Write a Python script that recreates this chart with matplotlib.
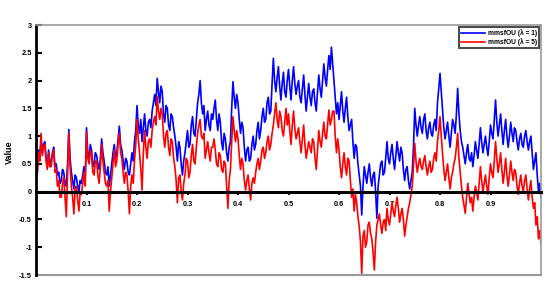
import numpy as np
import matplotlib
matplotlib.use("Agg")
import matplotlib.pyplot as plt

plt.rcParams["font.family"] = ["Liberation Sans", "DejaVu Sans"]

x_step = 0.0025
blue_vals = [
    0.5, 0.35, 0.75, 0.6, 0.95, 0.7, 0.85, 0.9, 0.6, 0.45, 0.75, 0.5, 0.55, 0.7, 0.8, 0.45, 0.5, 0.3, 0.35, 0.15,
    0.2, 0.4, 0.35, 0.15, 0.1, 0.5, 1.12, 0.6, 0.35, 0.2, 0.05, 0.3, 0.25, 0.1, 0.0, 0.2, 0.15, 0.3, 0.45, 0.25,
    1.15, 0.7, 0.6, 0.85, 0.75, 0.45, 0.5, 0.7, 0.65, 0.5, 0.4, 0.6, 0.95, 0.7, 0.55, 0.35, 0.3, 0.45, 0.1, 0.3,
    0.5, 0.7, 0.85, 0.6, 0.7, 0.95, 1.18, 0.85, 0.75, 0.55, 0.4, 0.6, 0.55, 0.35, 0.3, 0.5, 0.7, 0.55, 0.9, 1.1,
    1.55, 1.2, 1.05, 1.3, 0.9, 1.15, 1.4, 1.1, 1.0, 1.25, 1.3, 1.15, 1.45, 1.6, 1.75, 1.55, 2.04, 1.8, 1.6, 1.9,
    1.8, 1.4, 1.25, 1.55, 1.5, 1.2, 1.1, 1.4, 1.35, 1.15, 1.0, 0.8, 0.55, 0.9, 0.8, 0.5, 0.3, 0.55, 0.7, 0.9,
    1.1, 0.8, 0.85, 1.2, 1.35, 1.05, 1.0, 1.3, 1.6, 1.75, 2.0, 1.6, 1.4, 1.55, 1.1, 1.3, 1.45, 1.2, 1.1, 1.4,
    1.3, 1.5, 1.65, 1.3, 1.1, 1.4, 1.25, 0.9, 0.75, 1.05, 0.95, 0.7, 0.55, 0.8, 0.9, 1.5, 1.98, 1.7, 1.5, 1.75,
    1.6, 1.3, 1.05, 1.25, 1.15, 0.8, 0.55, 0.75, 0.8, 0.55, 0.6, 0.85, 1.0, 0.75, 0.85, 1.1, 1.25, 0.95, 1.1, 1.35,
    1.5, 1.25, 1.3, 1.6, 1.7, 1.4, 1.45, 1.95, 2.4, 2.0, 1.8, 2.05, 2.25, 1.9, 1.65, 1.95, 2.15, 1.8, 1.7, 2.0,
    2.2, 1.9, 1.65, 2.0, 2.25, 1.95, 1.75, 1.9, 2.0, 1.7, 1.6, 1.85, 2.1, 1.75, 1.45, 1.7, 1.95, 1.7, 1.55, 1.8,
    1.85, 1.6, 1.45, 1.8, 2.1, 1.85, 1.7, 2.0, 2.3, 2.05, 1.9, 2.2, 2.45, 2.2, 2.6, 2.3, 2.0, 1.7, 1.4, 1.6,
    1.3, 1.55, 1.8, 1.45, 1.25, 1.5, 1.7, 1.35, 1.1, 1.2, 1.3, 0.9, 0.6, 0.85, 0.8, 0.5, 0.3, 0.1, -0.42, 0.1,
    0.45, 0.3, 0.15, 0.35, 0.5, 0.25, 0.1, 0.3, 0.35, 0.0, -0.48, 0.1, 0.3, 0.5, 0.55, 0.3, 0.35, 0.6, 0.9, 0.6,
    0.5, 0.7, 0.85, 0.6, 0.4, 0.65, 0.9, 0.7, 0.55, 0.8, 0.7, 0.4, 0.2, 0.4, 0.45, 0.2, 0.05, 0.2, 0.35, 0.8,
    1.5, 1.2, 1.0, 1.2, 1.35, 1.15, 1.05, 1.3, 1.4, 1.1, 0.95, 1.15, 1.25, 1.05, 1.0, 1.2, 1.3, 1.1, 1.6, 1.85,
    2.13, 1.8, 1.45, 1.15, 0.95, 1.1, 1.25, 1.0, 0.8, 1.05, 1.3, 1.2, 1.05, 1.4, 1.86, 1.4, 1.1, 0.9, 0.8, 0.65,
    0.5, 0.7, 0.85, 0.6, 0.55, 0.7, 0.45, 0.65, 0.9, 0.75, 0.6, 0.85, 1.15, 0.9, 0.7, 0.85, 1.0, 0.8, 0.65, 0.9,
    1.2, 1.05, 0.95, 1.3, 1.65, 1.25, 1.0, 1.2, 1.4, 1.1, 0.85, 1.1, 1.3, 1.0, 0.8, 1.0, 1.25, 1.05, 0.9, 1.15,
    1.1, 0.9, 0.75, 0.95, 1.05, 0.85, 0.8, 1.0, 1.1, 0.9, 0.75, 0.9, 1.0, 0.7, 0.4, 0.55, 0.7, 0.3, 0.0, 0.15, -0.1,
]
red_vals = [
    0.45, 0.3, 0.7, 0.55, 1.05, 0.65, 0.8, 0.85, 0.55, 0.4, 0.7, 0.45, 0.45, 0.65, 0.75, 0.35, 0.4, 0.1, 0.2, -0.1,
    -0.1, 0.15, 0.25, -0.1, -0.45, 0.3, 1.05, 0.45, 0.1, -0.1, -0.4, 0.05, 0.1, -0.15, -0.35, 0.0, -0.05, 0.15, 0.35, 0.1,
    1.08, 0.6, 0.5, 0.75, 0.65, 0.35, 0.3, 0.55, 0.55, 0.3, 0.15, 0.45, 0.85, 0.55, 0.35, 0.15, 0.1, 0.2, -0.35, 0.0,
    0.25, 0.5, 0.75, 0.45, 0.55, 0.85, 1.05, 0.7, 0.6, 0.35, 0.15, 0.35, 0.3, 0.0, -0.4, 0.1, 0.3, 0.15, 0.55, 0.85,
    1.3, 0.95, 0.7, 0.4, 0.03, 0.7, 1.1, 0.8, 0.6, 0.9, 0.95, 0.8, 1.1, 1.25, 1.35, 1.2, 1.71, 1.45, 1.3, 1.5,
    1.4, 1.0, 0.8, 1.05, 1.1, 0.8, 0.65, 0.95, 0.9, 0.6, 0.45, 0.2, -0.2, 0.25, 0.3, 0.0, -0.15, 0.15, 0.3, 0.6,
    0.55, 0.25, 0.35, 0.65, 0.85, 0.55, 0.5, 0.8, 1.05, 1.2, 1.3, 1.0, 0.95, 1.05, 0.6, 0.75, 0.9, 0.7, 0.55, 0.8,
    0.8, 0.95, 0.75, 0.5, 0.45, 0.7, 0.65, 0.4, 0.35, 0.55, 0.5, 0.1, -0.3, 0.2, 0.4, 0.9, 1.35, 1.1, 0.9, 1.1,
    0.95, 0.65, 0.4, 0.6, 0.5, 0.2, 0.03, 0.2, 0.3, 0.05, -0.15, 0.15, 0.25, 0.15, 0.35, 0.5, 0.6, 0.4, 0.55, 0.75,
    0.8, 0.6, 0.7, 0.9, 1.0, 0.75, 0.85, 1.05, 1.2, 1.4, 1.6, 1.3, 1.15, 1.45, 1.35, 1.1, 1.0, 1.25, 1.5, 1.2,
    1.4, 1.1, 0.85, 1.2, 1.45, 1.15, 0.95, 1.05, 1.15, 0.9, 0.7, 0.95, 1.2, 0.85, 0.6, 0.75, 0.9, 0.8, 0.7, 0.95,
    0.9, 0.6, 0.4, 0.75, 1.1, 0.9, 0.8, 1.05, 1.25, 1.0, 0.95, 1.2, 1.47, 1.2, 1.3, 1.45, 1.45, 1.0, 0.7, 0.95,
    0.75, 0.45, 0.25, 0.5, 0.7, 0.45, 0.3, 0.6, 0.55, 0.2, -0.1, 0.05, -0.35, -0.05, -0.2, -0.45, -0.63, -0.9, -1.47, -0.8,
    -0.7, -1.0, -0.9, -0.6, -0.55, -0.75, -0.85, -1.1, -1.41, -0.9, -0.6, -0.5, -0.4, -0.6, -0.75, -0.55, -0.5, -0.7, -0.3, -0.5,
    -0.6, -0.4, -0.2, -0.35, -0.45, -0.25, -0.1, -0.3, -0.55, -0.4, -0.3, -0.5, -0.8, -0.6, -0.45, -0.3, -0.2, -0.05, 0.1, 0.45,
    0.87, 0.55, 0.35, 0.5, 0.6, 0.45, 0.4, 0.55, 0.65, 0.45, 0.3, 0.45, 0.55, 0.35, 0.4, 0.6, 0.7, 0.55, 0.9, 1.1,
    1.35, 1.0, 0.7, 0.4, 0.2, 0.35, 0.5, 0.25, 0.05, 0.25, 0.35, 0.5, 0.6, 0.8, 1.05, 0.6, 0.35, 0.1, -0.1, -0.25,
    -0.39, -0.1, 0.15, -0.05, -0.2, -0.1, -0.35, -0.1, 0.1, 0.0, -0.15, 0.15, 0.45, 0.2, 0.0, 0.15, 0.3, 0.1, -0.05, 0.25,
    0.5, 0.35, 0.25, 0.55, 0.9, 0.6, 0.35, 0.5, 0.7, 0.4, 0.15, 0.35, 0.6, 0.3, 0.1, 0.3, 0.55, 0.35, 0.2, 0.4,
    0.35, 0.1, -0.05, 0.15, 0.3, 0.1, 0.0, 0.2, 0.3, 0.05, -0.15, 0.05, 0.2, -0.1, -0.3, -0.2, -0.6, -0.45, -0.85, -0.7, -0.95,
]
labels = ["mmsfOU (λ = 1)", "mmsfOU (λ = 5)"]
xtick_vals = [0.1, 0.2, 0.3, 0.4, 0.5, 0.6, 0.7, 0.8, 0.9]
ytick_vals = [-1.5, -1, -0.5, 0, 0.5, 1, 1.5, 2, 2.5, 3]
ytick_labels = ["-1.5", "-1", "-0.5", "0", "0.5", "1", "1.5", "2", "2.5", "3"]

xb = np.arange(len(blue_vals)) * x_step
xr = np.arange(len(red_vals)) * x_step

fig = plt.figure(figsize=(5.57, 2.99), dpi=100)
ax = fig.add_axes([36/557, 24/299, 505/557, 250/299])

ax.plot(xb, blue_vals, color="#0000ff", lw=1.2, label=labels[0], zorder=2)
ax.plot(xr, red_vals, color="#ff0000", lw=1.2, label=labels[1], zorder=2)

ax.set_xlim(0, 1)
ax.set_ylim(-1.5, 3)

for s in ["top", "right"]:
    ax.spines[s].set_color("#999999")
    ax.spines[s].set_linewidth(1.2)
ax.spines["left"].set_color("black")
ax.spines["left"].set_linewidth(2.0)
ax.spines["bottom"].set_position(("data", 0))
ax.spines["bottom"].set_color("black")
ax.spines["bottom"].set_linewidth(2.2)
ax.spines["bottom"].set_zorder(3)
ax.axhline(-1.5, color="#999999", lw=1.5, clip_on=False)

ax.set_yticks(ytick_vals)
ax.set_yticklabels(ytick_labels, fontsize=5.3, fontweight="bold")
ax.tick_params(axis="y", direction="in", length=4, width=1.5, pad=3)
ax.set_xticks(xtick_vals)
ax.set_xticklabels([str(v) for v in xtick_vals], fontsize=5.3, fontweight="bold")
ax.tick_params(axis="x", direction="out", length=2.5, width=1.5, pad=4)

ax.set_ylabel("Value", fontsize=6.5, fontweight="bold")
ax.yaxis.set_label_coords(-0.044, 0.49)

leg = ax.legend(loc="upper right", frameon=True, fancybox=False,
                borderaxespad=0.25, handlelength=3.6, handletextpad=0.4,
                borderpad=0.35, labelspacing=0.2, prop={"weight": "bold", "size": 4.8})
leg.get_frame().set_edgecolor("#222222")
leg.get_frame().set_linewidth(1.5)

fig.savefig("out.png", dpi=100)
